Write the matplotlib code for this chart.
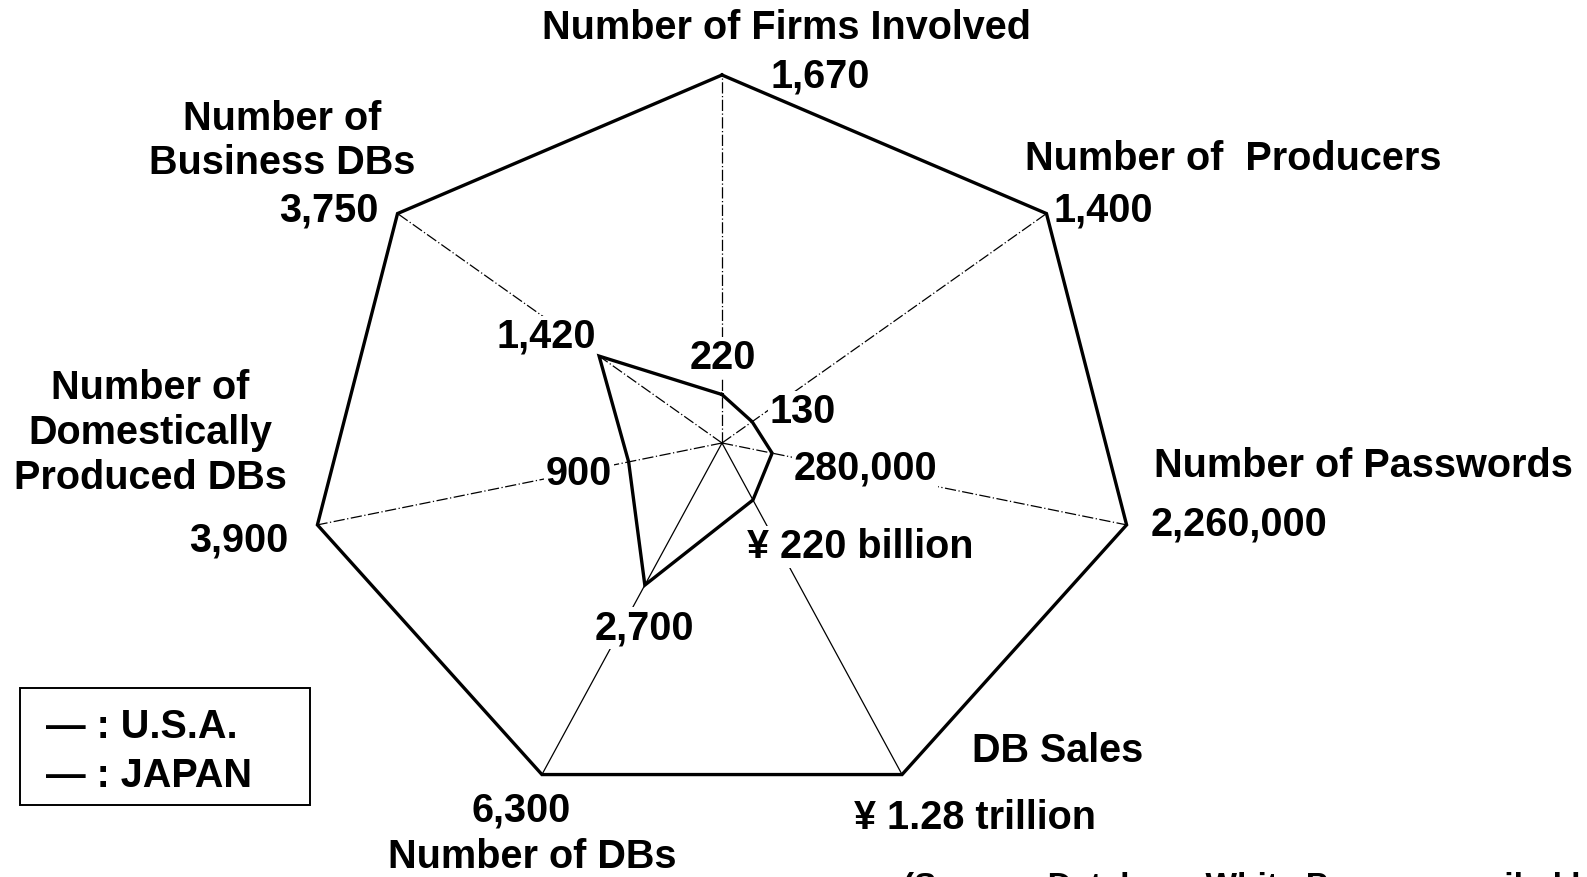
import numpy as np
import matplotlib.pyplot as plt
from matplotlib.patches import Rectangle

# radar data: each axis scaled to the U.S.A. value
categories = ["Number of Firms Involved", "Number of  Producers", "Number of Passwords",
              "DB Sales", "Number of DBs", "Number of\nDomestically\nProduced DBs",
              "Number of\nBusiness DBs"]
usa_values = [1670, 1400, 2260000, 1.28e12, 6300, 3900, 3750]
japan_values = [220, 130, 280000, 220e9, 2700, 900, 1420]
usa_labels = ["1,670", "1,400", "2,260,000", "¥ 1.28 trillion", "6,300", "3,900", "3,750"]
japan_labels = ["220", "130", "280,000", "¥ 220 billion", "2,700", "900", "1,420"]
legend_labels = ["— : U.S.A.", "— : JAPAN"]
source_note = "(Source: Database White Paper, compiled by"

W, H = 1587, 877
plt.rcParams['font.family'] = ['Liberation Sans', 'DejaVu Sans']
plt.rcParams['font.weight'] = 'bold'

fig = plt.figure(figsize=(W / 100, H / 100), dpi=100)
ax = fig.add_axes([0, 0, 1, 1])

# centre and radii of the chart in pixels
cx, cy, rx, ry = 722, 443, 415, 368
ax.set_xlim(-cx / rx, (W - cx) / rx)
ax.set_ylim(-(H - cy) / ry, cy / ry)
ax.axis('off')

n = len(categories)
theta = np.deg2rad(90 - np.arange(n) * 360 / n)
usa = np.array(usa_values) / np.array(usa_values)
jp = np.array(japan_values) / np.array(usa_values)

# spokes
spoke_styles = [(0, (9, 2, 1, 2)), (0, (9, 2, 1, 2)), (0, (9, 2, 1, 2)), '-', '-',
                (0, (9, 2, 1, 2)), (0, (9, 2, 1, 2))]
for t, ls in zip(theta, spoke_styles):
    ax.plot([0, np.cos(t)], [0, np.sin(t)], color='black', lw=0.9, ls=ls, zorder=1)

def closed(r):
    return np.append(r * np.cos(theta), r[0] * np.cos(theta[0])), \
           np.append(r * np.sin(theta), r[0] * np.sin(theta[0]))

ux, uy = closed(usa)
ax.plot(ux, uy, color='black', lw=2.4, solid_joinstyle='miter', zorder=2)
jx, jy = closed(jp)
ax.plot(jx, jy, color='black', lw=2.4, solid_joinstyle='miter', zorder=4)

def ptext(px, py, s, **kw):
    ax.text(px / W, 1 - py / H, s, transform=ax.transAxes, **kw)

fs = 28.5
cat_pos = [(787, 28), (1233, 159), (1363, 466), (1058, 751), (532, 857), (150, 433), (282, 141)]
usa_pos = [(820, 76), (1103, 210), (1239, 524), (975, 818), (521, 810), (239, 541), (329, 210)]
jp_pos = [(723, 358), (803, 412), (865, 468), (860, 547), (644, 628), (579, 474), (546, 337)]

for s, (px, py) in zip(categories, cat_pos):
    ptext(px, py, s, fontsize=fs, ha='center', va='center', linespacing=1.23, zorder=5)
for s, (px, py) in zip(usa_labels, usa_pos):
    ptext(px, py, s, fontsize=fs, ha='center', va='center', zorder=5)
for s, (px, py) in zip(japan_labels, jp_pos):
    ptext(px, py, s, fontsize=fs, ha='center', va='center', zorder=3,
          bbox=dict(facecolor='white', edgecolor='none', pad=1))

# legend box
ax.add_patch(Rectangle((20 / W, 1 - 805 / H), 290 / W, 117 / H, transform=ax.transAxes,
                       fill=False, edgecolor='black', lw=1.4, zorder=5))
for i, s in enumerate(legend_labels):
    ptext(46, 727 + i * 49, s, fontsize=fs, ha='left', va='center', zorder=5)

# source note, cut by the lower edge as in the scan
ptext(903, 872, source_note, fontsize=24, ha='left', va='top', zorder=5)

fig.savefig('out.png', dpi=100)
